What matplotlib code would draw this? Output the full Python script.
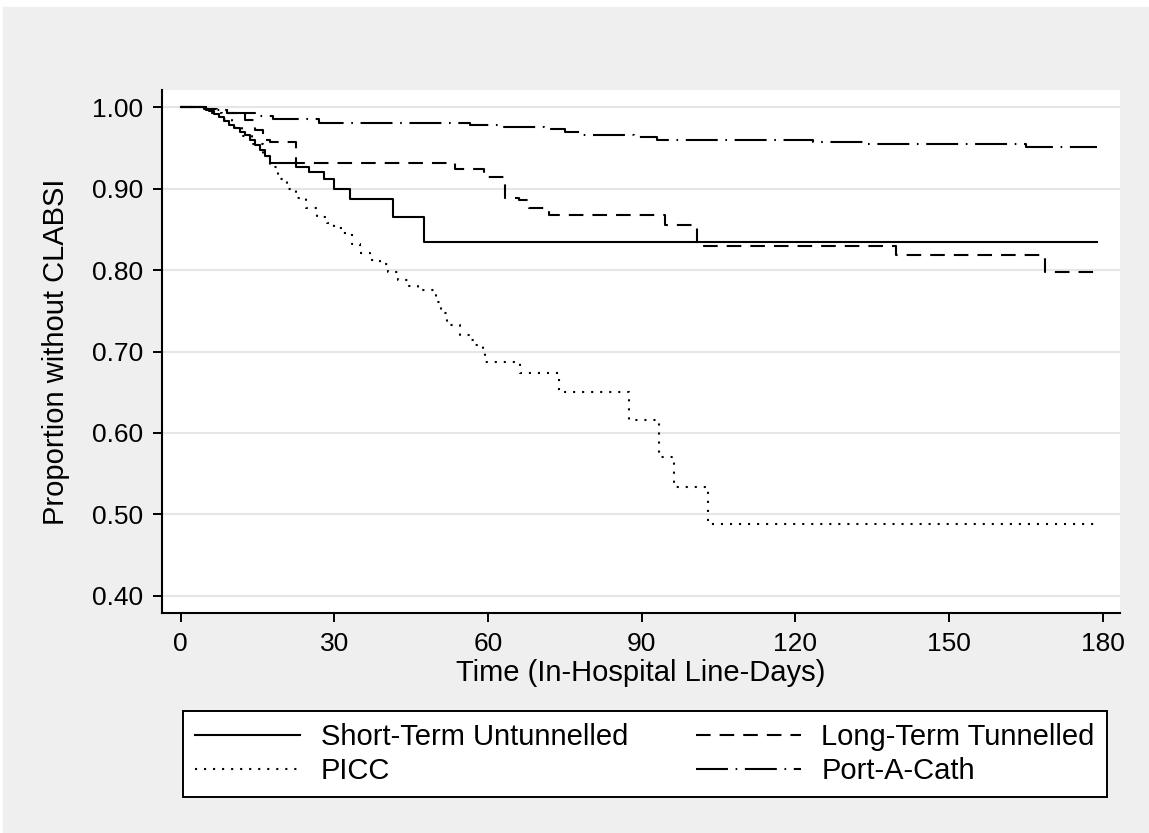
# Curvas Kaplan-Meier: proporción sin CLABSI por tipo de catéter
import matplotlib
matplotlib.use("Agg")
import matplotlib.pyplot as plt
from matplotlib.patches import Rectangle

plt.rcParams['font.family'] = ['Liberation Sans', 'DejaVu Sans']
plt.rcParams['lines.scale_dashes'] = False

# Datos (tiempo en días, supervivencia)
t_short = [0, 4.5, 5.5, 6.5, 7.5, 8.5, 9.5, 10.5, 11.5, 12.5, 13.5, 14.5, 15.5, 16.5,
           17.5, 22.5, 25, 28, 30, 33, 41.5, 47.5, 179]
s_short = [1.0, 0.998, 0.995, 0.992, 0.988, 0.983, 0.978, 0.974, 0.970, 0.966, 0.960,
           0.954, 0.947, 0.940, 0.932, 0.926, 0.920, 0.912, 0.899, 0.887, 0.865, 0.835, 0.835]

t_long = [0, 5, 7, 9, 12.5, 14.5, 16, 17.5, 22.5, 53.5, 59.3, 63.3, 66, 68, 72,
          94.5, 100.8, 139.7, 168.8, 179]
s_long = [1.0, 0.998, 0.996, 0.993, 0.984, 0.972, 0.960, 0.957, 0.932, 0.924, 0.914,
          0.888, 0.886, 0.876, 0.867, 0.855, 0.830, 0.818, 0.797, 0.797]

t_picc = [0, 4.5, 6, 8, 10, 12, 14, 16, 17.5, 19, 20.8, 22.5, 24.5, 26.7, 28.5, 30,
          31.6, 33.5, 35, 37, 39, 40.5, 42.5, 44.5, 46.4, 49.8, 50.8, 52, 54.5, 56.5,
          57.5, 59, 59.5, 66.2, 73.9, 87.6, 93.3, 96.3, 103, 179]
s_picc = [1.0, 0.998, 0.993, 0.985, 0.975, 0.965, 0.955, 0.940, 0.926, 0.912, 0.900,
          0.888, 0.876, 0.865, 0.858, 0.852, 0.845, 0.832, 0.821, 0.812, 0.808, 0.797,
          0.788, 0.781, 0.775, 0.761, 0.747, 0.733, 0.720, 0.714, 0.708, 0.698, 0.687,
          0.673, 0.650, 0.616, 0.571, 0.534, 0.488, 0.488]

t_port = [0, 5, 9, 14.5, 18, 27, 56.4, 62.7, 71, 75, 78, 88.5, 93, 123.5, 134, 165, 179]
s_port = [1.0, 0.997, 0.993, 0.989, 0.986, 0.981, 0.978, 0.976, 0.973, 0.969, 0.966,
          0.963, 0.960, 0.9575, 0.955, 0.951, 0.951]

etiquetas = ["Short-Term Untunnelled", "Long-Term Tunnelled", "PICC", "Port-A-Cath"]
xticks = [0, 30, 60, 90, 120, 150, 180]
yticks = [0.40, 0.50, 0.60, 0.70, 0.80, 0.90, 1.00]

W, H = 1149, 833
fig = plt.figure(figsize=(W / 100, H / 100), dpi=100)
fig.patch.set_facecolor('white')
# fondo gris con un borde blanco fino arriba e izquierda
fig.add_artist(Rectangle((3 / W, 0), 1, 1 - 7 / H, transform=fig.transFigure,
                         color='#efefef', zorder=-10))

ax = fig.add_axes([162 / W, (H - 613) / H, (1120 - 162) / W, (613 - 90) / H])
ax.set_facecolor('white')

lw = 1.5
l1, = ax.step(t_short, s_short, where='post', color='black', lw=lw, linestyle='-')
l2, = ax.step(t_long, s_long, where='post', color='black', lw=lw,
              linestyle=(0, (10.5, 6.5)))
l3, = ax.step(t_picc, s_picc, where='post', color='black', lw=lw,
              linestyle=(0, (1.5, 5)))
l4, = ax.step(t_port, s_port, where='post', color='black', lw=lw,
              linestyle=(0, (23, 5.5, 1.2, 5.5)))

ax.set_xlim(-3.65, 183.4)
ax.set_ylim(0.379, 1.021)
ax.set_xticks(xticks)
ax.set_yticks(yticks)
ax.set_yticklabels([f"{v:.2f}" for v in yticks])
ax.tick_params(axis='both', direction='out', length=6.5, width=1.4,
               labelsize=19, color='black', pad=7)
ax.grid(axis='y', color='#e6e6e6', lw=1.5)
ax.set_axisbelow(True)

for lado in ['top', 'right']:
    ax.spines[lado].set_visible(False)
for lado in ['left', 'bottom']:
    ax.spines[lado].set_linewidth(1.5)

ax.set_xlabel("Time (In-Hospital Line-Days)", fontsize=21, va='center')
ax.xaxis.set_label_coords(0.5, -(673 - 613) / (613 - 90))
ax.set_ylabel("Proportion without CLABSI", fontsize=21, va='center')
ax.yaxis.set_label_coords((56 - 162) / (1120 - 162), 0.5)

# leyenda en dos columnas (orden por columnas)
leg = fig.legend([l1, l3, l2, l4],
                 [etiquetas[0], etiquetas[2], etiquetas[1], etiquetas[3]],
                 ncol=2, loc='upper left', mode='expand', borderaxespad=0,
                 bbox_to_anchor=(183 / W, 1 - 711 / H, (1107 - 183) / W, 0),
                 fontsize=21, handlelength=3.6, handletextpad=0.7,
                 borderpad=0.42, labelspacing=0.2, columnspacing=1.5,
                 fancybox=False, framealpha=1, edgecolor='black')
leg.get_frame().set_linewidth(1.4)

fig.savefig("out.png", dpi=100, facecolor=fig.get_facecolor())
